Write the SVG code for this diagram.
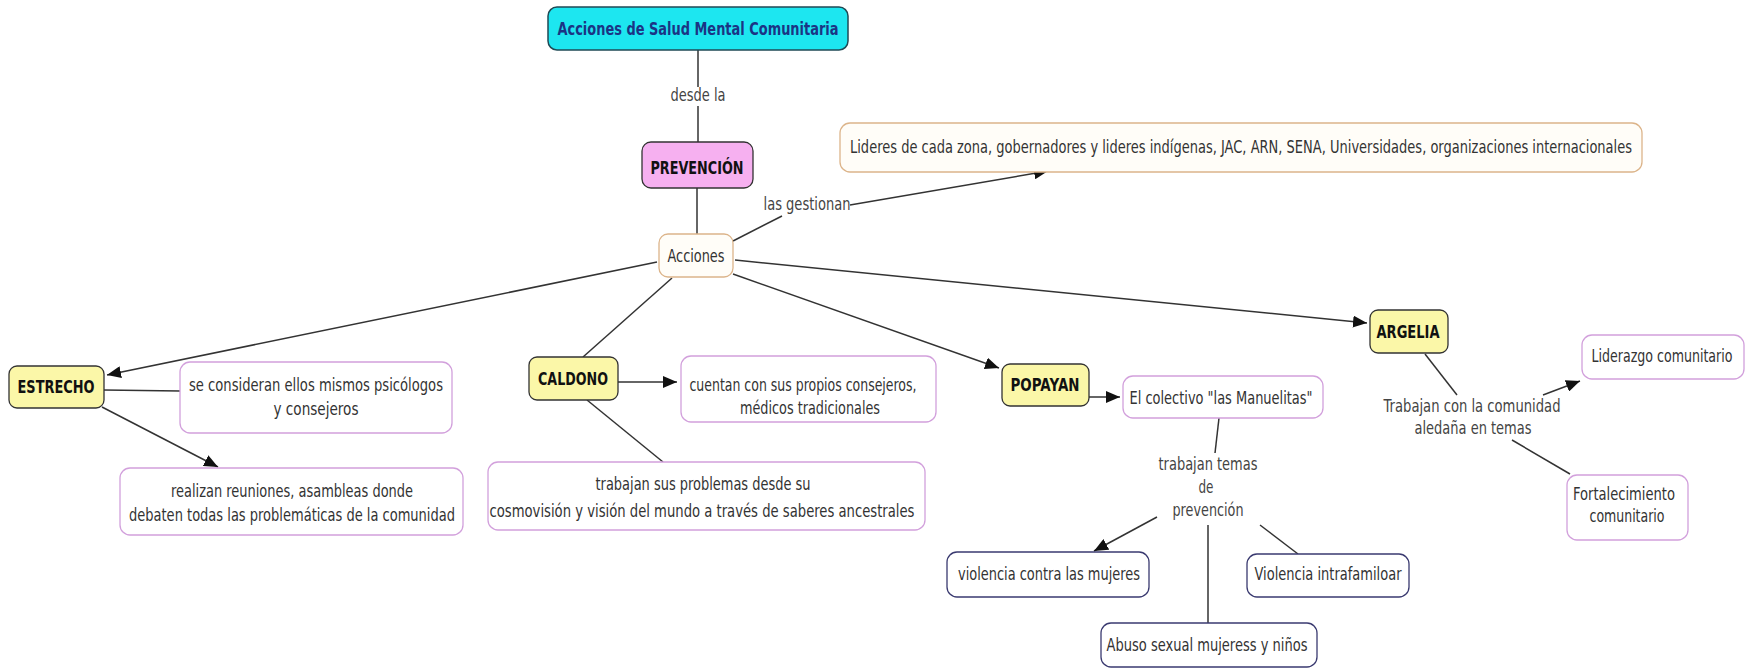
<svg xmlns="http://www.w3.org/2000/svg" width="1747" height="668" viewBox="0 0 1747 668">
<style>
text{font-family:"DejaVu Sans","Liberation Sans",sans-serif;font-size:18px;fill:#333;text-anchor:middle}
.b{font-weight:bold;fill:#111}
.t{fill:#1b3484;font-weight:bold}
.lbl{fill:#444}
.c{fill:none;stroke:#333;stroke-width:1.5}
.box{fill:#fff;stroke-width:1.3}
.tan{stroke:#dcb48a;fill:#fffdf8}
.pur{stroke:#d2a0dc}
.nav{stroke:#3a3a70}
.yel{fill:#fbf7a8;stroke:#333;stroke-width:1.3}
</style>
<defs>
<marker id="ar" viewBox="0 0 14 12" refX="14" refY="6" markerWidth="14" markerHeight="12" markerUnits="userSpaceOnUse" orient="auto">
<path d="M0,0 L14,6 L0,12 z" fill="#111"/>
</marker>
</defs>
<rect width="1747" height="668" fill="#fff"/>
<g id="connectors">
<path class="c" d="M698,50 L698,87"/>
<path class="c" d="M698,106 L698,142"/>
<path class="c" d="M697,188 L697,234"/>
<path class="c" d="M733,241 L782,216"/>
<path class="c" d="M850,205 L1048,171" marker-end="url(#ar)"/>
<path class="c" d="M657,262 L107,375" marker-end="url(#ar)"/>
<path class="c" d="M104,390 L180,391"/>
<path class="c" d="M102,407 L218,467" marker-end="url(#ar)"/>
<path class="c" d="M672,278 L583,357"/>
<path class="c" d="M618,382 L677,382" marker-end="url(#ar)"/>
<path class="c" d="M587,400 L663,462"/>
<path class="c" d="M733,274 L999,368" marker-end="url(#ar)"/>
<path class="c" d="M1089,397 L1120,397" marker-end="url(#ar)"/>
<path class="c" d="M1219,418 L1215,453"/>
<path class="c" d="M1157,517 L1094,551" marker-end="url(#ar)"/>
<path class="c" d="M1208,525 L1208,623"/>
<path class="c" d="M1260,525 L1298,554"/>
<path class="c" d="M735,260 L1367,323" marker-end="url(#ar)"/>
<path class="c" d="M1425,354 L1457,395"/>
<path class="c" d="M1543,395 L1580,381" marker-end="url(#ar)"/>
<path class="c" d="M1512,440 L1570,474"/>
<text class="lbl" x="698" y="101" textLength="55" lengthAdjust="spacingAndGlyphs">desde la</text>
<text class="lbl" x="807" y="210" textLength="87" lengthAdjust="spacingAndGlyphs">las gestionan</text>
<text class="lbl" x="1208" y="470" textLength="99" lengthAdjust="spacingAndGlyphs">trabajan temas</text>
<text class="lbl" x="1206" y="493" textLength="15" lengthAdjust="spacingAndGlyphs">de</text>
<text class="lbl" x="1208" y="516" textLength="71" lengthAdjust="spacingAndGlyphs">prevención</text>
<text class="lbl" x="1472" y="412" textLength="177" lengthAdjust="spacingAndGlyphs">Trabajan con la comunidad</text>
<text class="lbl" x="1473" y="434" textLength="117" lengthAdjust="spacingAndGlyphs">aledaña en temas</text>
</g>
<g id="n-titulo">
<rect x="548" y="7" width="300" height="43" rx="9" fill="#1de6f0" stroke="#1f4a55" stroke-width="1.5"/>
<text class="t" x="698" y="35" textLength="281" lengthAdjust="spacingAndGlyphs">Acciones de Salud Mental Comunitaria</text>
</g>
<g id="n-prevencion">
<rect x="642" y="142" width="111" height="46" rx="9" fill="#f6b0f0" stroke="#333" stroke-width="1.3"/>
<text class="b" x="697" y="174" textLength="93" lengthAdjust="spacingAndGlyphs">PREVENCIÓN</text>
</g>
<g id="n-acciones">
<rect class="box tan" x="659" y="234" width="74" height="43" rx="9"/>
<text x="696" y="262" textLength="57" lengthAdjust="spacingAndGlyphs">Acciones</text>
</g>
<g id="n-lideres">
<rect class="box tan" x="840" y="123" width="802" height="49" rx="10"/>
<text x="1241" y="153" textLength="782" lengthAdjust="spacingAndGlyphs">Lideres de cada zona, gobernadores y lideres indígenas, JAC, ARN, SENA, Universidades, organizaciones internacionales</text>
</g>
<g id="n-estrecho">
<rect class="yel" x="9" y="366" width="95" height="42" rx="8"/>
<text class="b" x="56" y="393" textLength="77" lengthAdjust="spacingAndGlyphs">ESTRECHO</text>
</g>
<g id="n-consideran">
<rect class="box pur" x="180" y="362" width="272" height="71" rx="10"/>
<text x="316" y="391" textLength="254" lengthAdjust="spacingAndGlyphs">se consideran ellos mismos psicólogos</text>
<text x="316" y="415" textLength="85" lengthAdjust="spacingAndGlyphs">y consejeros</text>
</g>
<g id="n-realizan">
<rect class="box pur" x="120" y="468" width="343" height="67" rx="10"/>
<text x="292" y="497" textLength="242" lengthAdjust="spacingAndGlyphs">realizan reuniones, asambleas donde</text>
<text x="292" y="521" textLength="326" lengthAdjust="spacingAndGlyphs">debaten todas las problemáticas de la comunidad</text>
</g>
<g id="n-caldono">
<rect class="yel" x="529" y="357" width="89" height="43" rx="8"/>
<text class="b" x="573" y="385" textLength="70" lengthAdjust="spacingAndGlyphs">CALDONO</text>
</g>
<g id="n-cuentan">
<rect class="box pur" x="681" y="356" width="255" height="66" rx="10"/>
<text x="803" y="391" textLength="227" lengthAdjust="spacingAndGlyphs">cuentan con sus propios consejeros,</text>
<text x="810" y="414" textLength="140" lengthAdjust="spacingAndGlyphs">médicos tradicionales</text>
</g>
<g id="n-trabajan">
<rect class="box pur" x="488" y="462" width="437" height="68" rx="10"/>
<text x="703" y="490" textLength="215" lengthAdjust="spacingAndGlyphs">trabajan sus problemas desde su</text>
<text x="702" y="517" textLength="425" lengthAdjust="spacingAndGlyphs">cosmovisión y visión del mundo a través de saberes ancestrales</text>
</g>
<g id="n-popayan">
<rect class="yel" x="1002" y="364" width="87" height="42" rx="8"/>
<text class="b" x="1045" y="391" textLength="69" lengthAdjust="spacingAndGlyphs">POPAYAN</text>
</g>
<g id="n-manuelitas">
<rect class="box pur" x="1123" y="376" width="200" height="42" rx="10"/>
<text x="1221" y="404" textLength="183" lengthAdjust="spacingAndGlyphs">El colectivo "las Manuelitas"</text>
</g>
<g id="n-violencia">
<rect class="box nav" x="947" y="552" width="202" height="45" rx="10"/>
<text x="1049" y="580" textLength="182" lengthAdjust="spacingAndGlyphs">violencia contra las mujeres</text>
</g>
<g id="n-abuso">
<rect class="box nav" x="1101" y="623" width="216" height="44" rx="10"/>
<text x="1207" y="651" textLength="201" lengthAdjust="spacingAndGlyphs">Abuso sexual mujeress y niños</text>
</g>
<g id="n-intrafamiliar">
<rect class="box nav" x="1247" y="554" width="162" height="43" rx="10"/>
<text x="1328" y="580" textLength="147" lengthAdjust="spacingAndGlyphs">Violencia intrafamiloar</text>
</g>
<g id="n-argelia">
<rect class="yel" x="1370" y="310" width="78" height="43" rx="8"/>
<text class="b" x="1408" y="338" textLength="63" lengthAdjust="spacingAndGlyphs">ARGELIA</text>
</g>
<g id="n-liderazgo">
<rect class="box pur" x="1582" y="335" width="162" height="44" rx="10"/>
<text x="1662" y="362" textLength="141" lengthAdjust="spacingAndGlyphs">Liderazgo comunitario</text>
</g>
<g id="n-fortalecimiento">
<rect class="box pur" x="1567" y="475" width="121" height="65" rx="10"/>
<text x="1624" y="500" textLength="102" lengthAdjust="spacingAndGlyphs">Fortalecimiento</text>
<text x="1627" y="522" textLength="75" lengthAdjust="spacingAndGlyphs">comunitario</text>
</g>
</svg>
